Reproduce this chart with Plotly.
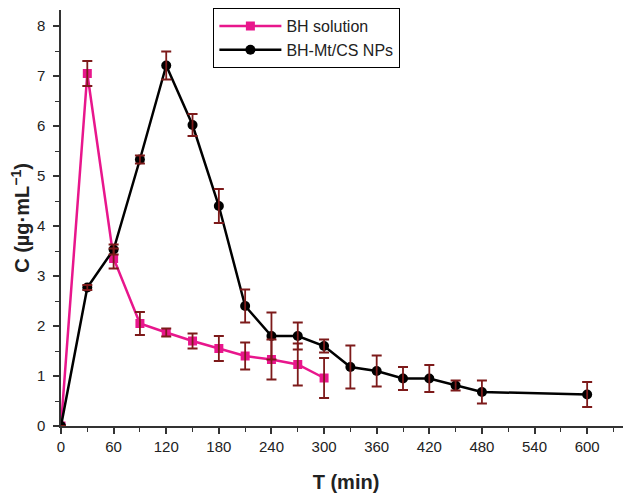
import plotly.graph_objects as go

t_bh = [0, 30, 60, 90, 120, 150, 180, 210, 240, 270, 300]
c_bh = [0, 7.05, 3.35, 2.05, 1.87, 1.70, 1.55, 1.40, 1.33, 1.23, 0.96]
e_bh = [0, 0.25, 0.2, 0.23, 0.08, 0.15, 0.25, 0.27, 0.4, 0.42, 0.4]

t_np = [0, 30, 60, 90, 120, 150, 180, 210, 240, 270, 300, 330, 360, 390, 420, 450, 480, 600]
c_np = [0, 2.77, 3.53, 5.33, 7.21, 6.02, 4.40, 2.40, 1.80, 1.80, 1.60, 1.18, 1.10, 0.95, 0.95, 0.81, 0.68, 0.63]
e_np = [0, 0.05, 0.1, 0.08, 0.28, 0.22, 0.34, 0.33, 0.47, 0.27, 0.13, 0.43, 0.31, 0.23, 0.27, 0.1, 0.23, 0.25]

x_ticks = [0, 60, 120, 180, 240, 300, 360, 420, 480, 540, 600]
y_ticks = [0, 1, 2, 3, 4, 5, 6, 7, 8]

err_color = "#7d1a1a"
fig = go.Figure()
fig.add_trace(go.Scatter(
    x=t_bh, y=c_bh, name="BH solution", mode="lines+markers",
    line=dict(color="#e8168c", width=2.5),
    marker=dict(symbol="square", size=9, color="#e8168c"),
))
fig.add_trace(go.Scatter(
    x=t_np, y=c_np, name="BH-Mt/CS NPs", mode="lines+markers",
    line=dict(color="black", width=2.5),
    marker=dict(symbol="circle", size=10, color="black"),
))
# error bars drawn on top of the markers
for xs, ys, es in [(t_bh, c_bh, e_bh), (t_np, c_np, e_np)]:
    fig.add_trace(go.Scatter(
        x=xs, y=ys, mode="markers", showlegend=False, hoverinfo="skip",
        marker=dict(size=1, color="rgba(0,0,0,0)"),
        error_y=dict(type="data", array=es, color=err_color, thickness=1.8, width=5),
    ))

font = dict(family="Arial, Liberation Sans, sans-serif", size=15, color="#222")
fig.update_layout(
    width=623, height=486,
    margin=dict(l=53, r=0, t=2, b=68, autoexpand=False),
    paper_bgcolor="white", plot_bgcolor="white",
    font=font,
    showlegend=True,
    legend=dict(x=0.267, y=1.005, xanchor="left", yanchor="top",
                bordercolor="black", borderwidth=1.2, bgcolor="white",
                font=dict(size=16, color="#222"), tracegroupgap=0,
                itemwidth=62),
    xaxis=dict(
        range=[0, 650], tickvals=x_ticks, showgrid=False, zeroline=False,
        showline=True, linecolor="#333", linewidth=1.5, automargin=False,
        ticks="outside", ticklen=6, tickwidth=1.5, tickcolor="#333",
        minor=dict(dtick=30, ticks="outside", ticklen=4, tickwidth=1.2, tickcolor="#333"),
        title=dict(text="<b>T (min)</b>", font=dict(size=20, color="#222"), standoff=21),
    ),
    yaxis=dict(
        range=[0, 8.32], tickvals=y_ticks, showgrid=False, zeroline=False,
        showline=True, linecolor="#333", linewidth=1.5, automargin=False,
        ticks="outside", ticklen=6, tickwidth=1.5, tickcolor="#333",
        ticklabelstandoff=5,
        minor=dict(dtick=0.5, ticks="outside", ticklen=4, tickwidth=1.2, tickcolor="#333"),
        title=dict(text="<b>C (µg·mL<sup>−1</sup>)</b>", font=dict(size=20, color="#222"), standoff=2),
    ),
)
fig.write_html("out.html")
